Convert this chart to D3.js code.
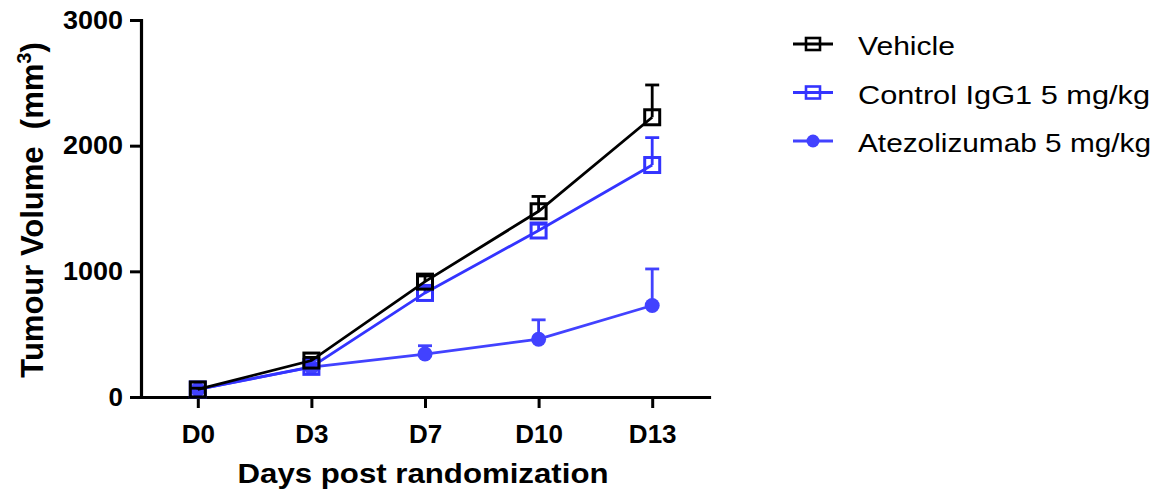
<!DOCTYPE html>
<html>
<head>
<meta charset="utf-8">
<script src="https://cdn.jsdelivr.net/npm/d3@7"></script>
<style>
  html, body { margin: 0; padding: 0; background: #fff; }
  svg { display: block; }
</style>
</head>
<body>
<div id="chart"></div>
<script>
// tumour volume growth curves, mean + upper SEM
const days = ['D0', 'D3', 'D7', 'D10', 'D13'];
const vehicleMean = [60, 290, 918, 1478, 2226];
const vehicleSem = [10, 25, 45, 118, 257];
const controlMean = [60, 240, 828, 1325, 1846];
const controlSem = [10, 20, 40, 50, 218];
const atezoMean = [60, 238, 342, 460, 728];
const atezoSem = [8, 15, 66, 154, 291];
const yTicks = [0, 1000, 2000, 3000];

const W = 1163, H = 494;
const FONT = 'Arial, "Liberation Sans", Helvetica, sans-serif';
const BLUE = '#3434ff';
const BLUE2 = '#4242ff';

const series = [
  { name: 'Atezolizumab 5 mg/kg', mean: atezoMean, sem: atezoSem, color: BLUE2, shape: 'circle', tl: 293 },
  { name: 'Control IgG1 5 mg/kg', mean: controlMean, sem: controlSem, color: BLUE, shape: 'square', tl: 292 },
  { name: 'Vehicle', mean: vehicleMean, sem: vehicleSem, color: '#000', shape: 'square', tl: 97 }
];

const svg = d3.select('#chart').append('svg')
  .attr('width', W)
  .attr('height', H)
  .style('font-family', FONT);

const x = d3.scalePoint().domain(days).range([141, 709]).padding(0.5);
const y = d3.scaleLinear().domain([0, 3000]).range([397, 20]);

// axes
const yAxis = svg.append('g')
  .attr('transform', 'translate(141,0)')
  .call(d3.axisLeft(y).tickValues(yTicks).tickFormat(d3.format('d'))
    .tickSize(11).tickSizeOuter(0).tickPadding(7));
const xAxis = svg.append('g')
  .attr('transform', 'translate(0,397)')
  .call(d3.axisBottom(x).tickSize(11).tickSizeOuter(0).tickPadding(10));

[yAxis, xAxis].forEach(a => {
  a.select('.domain').attr('stroke', '#000').attr('stroke-width', 3.2).attr('stroke-linecap', 'square');
  a.selectAll('.tick line').attr('stroke', '#000').attr('stroke-width', 3);
  a.selectAll('.tick text')
    .attr('fill', '#000')
    .style('font-family', FONT)
    .style('font-size', '26px')
    .style('font-weight', 'bold');
});
xAxis.selectAll('.tick text').attr('dy', '0.95em');
yAxis.selectAll('.tick text').attr('textLength', 60).attr('lengthAdjust', 'spacingAndGlyphs')
  .filter(d => d === 0).attr('textLength', null);

// axis titles
svg.append('text')
  .attr('x', 423)
  .attr('y', 483)
  .attr('text-anchor', 'middle')
  .attr('textLength', 371)
  .attr('lengthAdjust', 'spacingAndGlyphs')
  .style('font-size', '27px')
  .style('font-weight', 'bold')
  .text('Days post randomization');

const yt = svg.append('text')
  .attr('transform', 'translate(43,210) rotate(-90)')
  .attr('text-anchor', 'middle')
  .style('font-size', '31px')
  .style('font-weight', 'bold')
  .style('white-space', 'pre');
yt.append('tspan').text('Tumour Volume\u00a0 (mm');
yt.append('tspan').attr('dy', -12).style('font-size', '20px').text('3');
yt.append('tspan').attr('dy', 12).text(')');

// series
const line = d3.line().x((d, i) => x(days[i])).y(d => y(d));

function drawMarker(g, shape, cx, cy, color, size) {
  if (shape === 'circle') {
    g.append('circle').attr('cx', cx).attr('cy', cy).attr('r', size / 2)
      .attr('fill', color);
  } else {
    g.append('rect').attr('x', cx - size / 2).attr('y', cy - size / 2)
      .attr('width', size).attr('height', size)
      .attr('fill', 'none').attr('stroke', color).attr('stroke-width', 3);
  }
}

series.forEach(s => {
  const g = svg.append('g');
  // upper error bars
  s.mean.forEach((m, i) => {
    const cx = x(days[i]);
    g.append('line')
      .attr('x1', cx).attr('x2', cx)
      .attr('y1', y(m)).attr('y2', y(m + s.sem[i]))
      .attr('stroke', s.color).attr('stroke-width', 2.8);
    g.append('line')
      .attr('x1', cx - 7).attr('x2', cx + 7)
      .attr('y1', y(m + s.sem[i])).attr('y2', y(m + s.sem[i]))
      .attr('stroke', s.color).attr('stroke-width', 2.8);
  });
  g.append('path')
    .attr('d', line(s.mean))
    .attr('fill', 'none')
    .attr('stroke', s.color)
    .attr('stroke-width', 2.8);
  s.mean.forEach((m, i) => {
    drawMarker(g, s.shape, x(days[i]), y(m), s.color, 15);
  });
});

// legend
const legendOrder = [series[2], series[1], series[0]];
legendOrder.forEach((s, i) => {
  const ly = 44 + i * 48.5;
  const g = svg.append('g');
  g.append('line')
    .attr('x1', 793).attr('x2', 833)
    .attr('y1', ly).attr('y2', ly)
    .attr('stroke', s.color).attr('stroke-width', 2.8);
  if (s.shape === 'circle') {
    g.append('circle').attr('cx', 813).attr('cy', ly).attr('r', 6.5).attr('fill', s.color);
  } else {
    g.append('rect').attr('x', 806).attr('y', ly - 6).attr('width', 14).attr('height', 12)
      .attr('fill', 'none').attr('stroke', s.color).attr('stroke-width', 2.6);
  }
  g.append('text')
    .attr('x', 858)
    .attr('y', ly + 11)
    .attr('textLength', s.tl)
    .attr('lengthAdjust', 'spacingAndGlyphs')
    .style('font-size', '26px')
    .attr('fill', '#000')
    .text(s.name);
});
</script>
</body>
</html>
